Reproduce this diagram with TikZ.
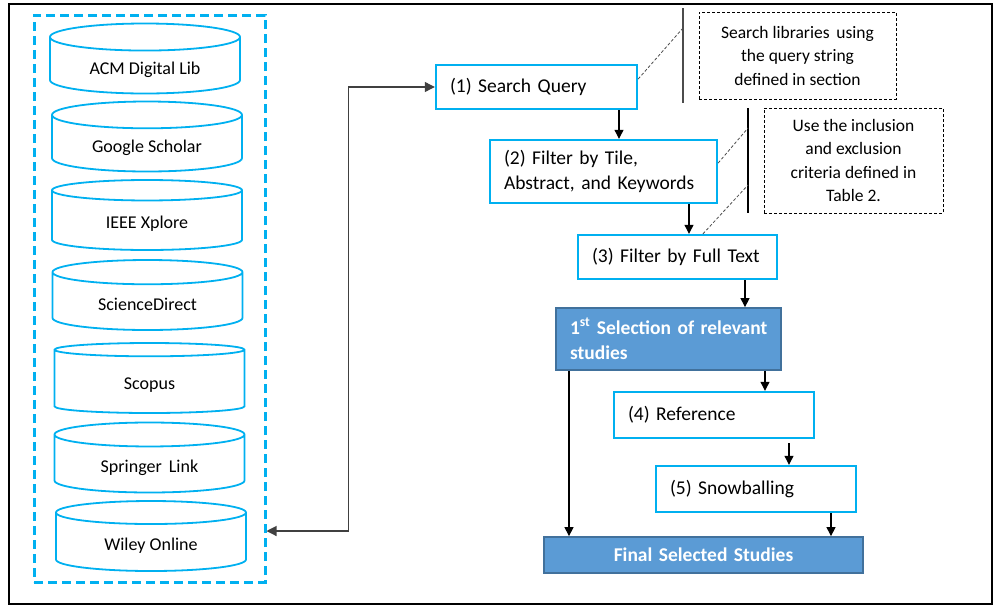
\documentclass[tikz,border=0pt]{standalone}
\usepackage{fontspec}
\setmainfont{Carlito}
\usepackage{tikz}
\usetikzlibrary{arrows.meta,shapes.geometric,calc}
\definecolor{skyline}{HTML}{00B0F0}
\definecolor{selfill}{HTML}{5B9BD5}
\definecolor{seldraw}{HTML}{41719C}

\begin{document}
\begin{tikzpicture}[x=1pt,y=-1pt,
	db/.style={cylinder,shape border rotate=90,draw=skyline,line width=1.8pt,anchor=shape center,
			minimum width=190pt,minimum height=70pt,aspect=0.23,text height=17pt,text depth=3pt,
			font=\fontsize{18}{22}\selectfont},
	stage/.style={rectangle,draw=skyline,line width=2.4pt,inner xsep=14pt,align=left,
			font=\fontsize{19.5}{25}\selectfont},
	result/.style={rectangle,fill=selfill,draw=seldraw,line width=1.8pt,text=white,inner xsep=14pt,
			font=\bfseries\fontsize{19.5}{25}\selectfont},
	note/.style={rectangle,draw,dash pattern=on 3pt off 2pt,line width=0.9pt,align=center,
			font=\fontsize{17.5}{23.5}\selectfont},
	flow/.style={-{Triangle[length=9pt,width=9pt]},line width=1.1pt}]
\useasboundingbox (0,0) rectangle (998,611);
\draw[line width=1.2pt] (9,4) rectangle (992,604);

\node (lib) at (149.5,298.5)[draw=skyline,line width=3pt,dash pattern=on 9pt off 5pt,
		minimum width=231pt,minimum height=567pt] {};
\node (acm) at (145,58.5)[db] {ACM Digital Lib};
\node (gs) at (147,136.5)[db] {Google Scholar};
\node (ieee) at (147,215)[db] {IEEE Xplore};
\node (sd) at (147.5,295)[db] {ScienceDirect};
\node (sco) at (149.5,378)[db] {Scopus};
\node (spr) at (149.5,457.5)[db] {Springer\, Link};
\node (wil) at (151,536)[db] {Wiley Online};

\node (s1) at (536.5,87)[stage,text width=173pt,minimum height=44pt] {(1) Search Query};
\node (s2) at (603.5,171.5)[stage,text width=199pt,minimum height=63pt] {(2) Filter by Tile,\\Abstract, and Keywords};
\node (s3) at (677.5,257)[stage,text width=171pt,minimum height=44pt] {(3) Filter by Full Text};
\node (sel) at (668.5,339)[result,text width=197pt,minimum height=62pt,align=left] {\mbox{1\textsuperscript{st} Selection of relevant}\\studies};
\node (s4) at (714,415)[stage,text width=172pt,minimum height=46pt] {(4) Reference};
\node (s5) at (756,489)[stage,text width=172pt,minimum height=46pt] {(5) Snowballing};
\node (fin) at (703.5,555)[result,text width=291pt,minimum height=36pt,align=center] {Final Selected Studies};

\node (n1) at (797.5,55.5)[note,minimum width=197pt,minimum height=87pt] {Search libraries\, using\\the query string\\defined in section};
\node (n2) at (853.5,160.5)[note,minimum width=179pt,minimum height=105pt] {Use the inclusion\\and exclusion\\criteria defined in\\Table 2.};
\coordinate (bar1) at (683,28);
\coordinate (bar2) at (748,128);
\coordinate (bar3) at (748,185);
\draw[gray!60!black,line width=1.2pt] (683,8) -- (683,103);
\draw[line width=1.2pt] (748,108) -- (748,213);
\draw[gray!60!black,line width=0.8pt,dash pattern=on 3pt off 2pt] (s1.east |- 0,79) -- (bar1);
\draw[gray!60!black,line width=0.8pt,dash pattern=on 3pt off 2pt] (s2.east |- 0,163) -- (bar2);
\draw[gray!60!black,line width=0.8pt,dash pattern=on 3pt off 2pt] (s3.north -| 703,0) -- (bar3);

\draw[flow] (s1.south -| 619,0) -- (s2.north -| 619,0);
\draw[flow] (s2.south -| 689,0) -- (s3.north -| 689,0);
\draw[flow] (s3.south -| 745,0) -- (sel.north -| 745,0);
\draw[flow] (sel.south -| 765,0) -- (s4.north -| 765,0);
\draw[flow,shorten <=4pt] (s4.south -| 789,0) -- (s5.north -| 789,0);
\draw[flow] (sel.south -| 569,0) -- (fin.north -| 569,0);
\draw[flow] (s5.south -| 831,0) -- (fin.north -| 831,0);
\draw[{Triangle[length=10pt,width=10pt]}-{Triangle[length=10pt,width=10pt]},line width=1.1pt,black!75]
	(lib.east |- 0,531) -- ++(82,0) |- (s1.west);
\end{tikzpicture}
\end{document}
